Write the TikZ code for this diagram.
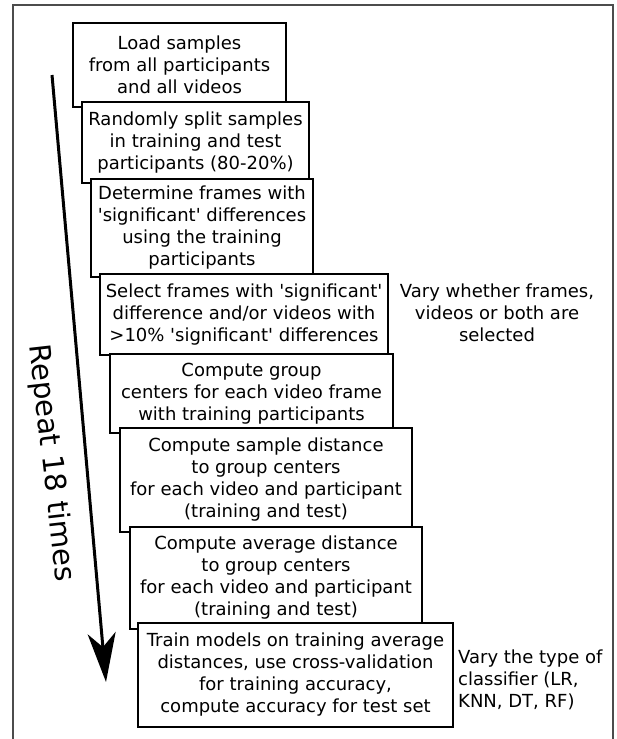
\documentclass[tikz,border=0pt]{standalone}
\usepackage{fontspec}
\setmainfont{DejaVu Sans}
\usetikzlibrary{arrows.meta}
\newcommand{\sq}{\textquotesingle}
\begin{document}
\begin{tikzpicture}[x=1pt,y=-1pt,
  stepbox/.style={draw=black, line width=2pt, fill=white, inner sep=0pt, align=center,
    font=\fontsize{18}{22}\selectfont},
  sidetext/.style={inner sep=0pt, font=\fontsize{18}{22}\selectfont},
  frameline/.style={draw=black!70, line width=1.5pt}]
\useasboundingbox (0,0) rectangle (617,739);
\coordinate (fa) at (13,739);
\coordinate (fb) at (13,5);
\coordinate (fc) at (613,5);
\coordinate (fd) at (613,739);
\draw[frameline] (fa) -- (fb) -- (fc) -- (fd);

\node[stepbox, minimum width=213pt, minimum height=84pt] (b1) at (179.5,65)
  {Load samples\\from all participants\\and all videos};
\node[stepbox, minimum width=227pt, minimum height=81pt] (b2) at (195.5,142.5)
  {Randomly split samples\\in training and test\\participants (80-20\%)};
\node[stepbox, minimum width=222pt, minimum height=98pt] (b3) at (202,228)
  {Determine frames with\\\sq significant\sq{} differences\\using the training\\participants};
\node[stepbox, minimum width=288pt, minimum height=81pt] (b4) at (244,314.5)
  {Select frames with \sq significant\sq\\difference and/or videos with\\>10\% \sq significant\sq{} differences};
\node[stepbox, minimum width=283pt, minimum height=79pt] (b5) at (251.5,393.5)
  {Compute group\\centers for each video frame\\with training participants};
\node[stepbox, minimum width=292pt, minimum height=104pt] (b6) at (266,480)
  {Compute sample distance\\to group centers\\for each video and participant\\(training and test)};
\node[stepbox, minimum width=292pt, minimum height=102pt] (b7) at (276,578)
  {Compute average distance\\to group centers\\for each video and participant\\(training and test)};
\node[stepbox, minimum width=315pt, minimum height=104pt] (b8) at (295.5,675)
  {Train models on training average\\distances, use cross-validation\\for training accuracy,\\compute accuracy for test set};

\node[sidetext, align=center] (s1) at (497,313)
  {Vary whether frames,\\videos or both are\\selected};
\node[sidetext, align=left, anchor=west] (s2) at (458,680)
  {Vary the type of\\classifier (LR,\\KNN, DT, RF)};

\coordinate (arrS) at (52,75);
\coordinate (arrE) at (106,682);
\draw[line width=3pt, -{Stealth[length=49pt,width=28pt,inset=14pt]}] (arrS) -- (arrE);
\node[inner sep=0pt, rotate=-83.5, font=\fontsize{29}{34}\selectfont] (rep) at (51,463) {Repeat 18 times};
\end{tikzpicture}
\end{document}
